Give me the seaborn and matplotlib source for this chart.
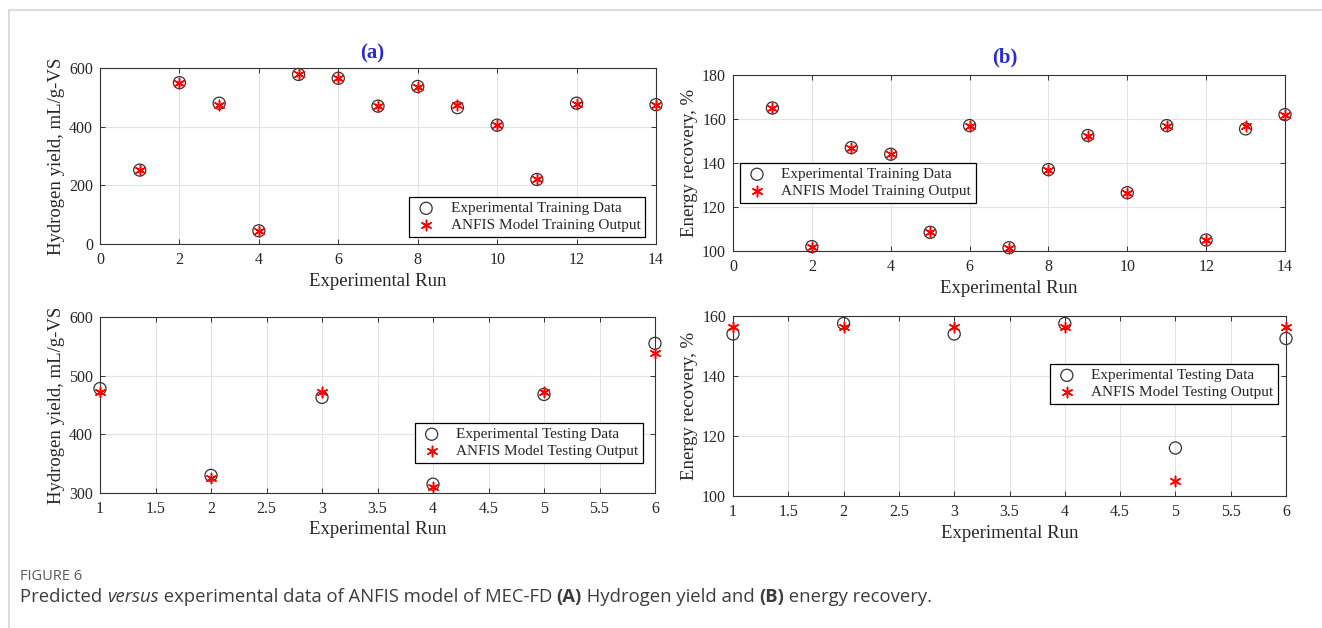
import matplotlib
matplotlib.use("Agg")
import matplotlib.pyplot as plt
import seaborn as sns
import pandas as pd
from matplotlib.ticker import FuncFormatter, MultipleLocator
from matplotlib.lines import Line2D

# ---------------- data ----------------
train_run_a = [1, 2, 3, 4, 5, 6, 7, 8, 9, 10, 11, 12, 14]
train_exp_a = [252, 550, 480, 45, 578, 565, 470, 537, 465, 405, 220, 480, 475]
train_mod_a = [252, 550, 473, 45, 578, 565, 470, 535, 475, 405, 220, 477, 475]

train_run_b = [1, 2, 3, 4, 5, 6, 7, 8, 9, 10, 11, 12, 13, 14]
train_exp_b = [165, 102, 147, 144, 108.5, 157, 101.5, 137, 152.5, 126.5, 157, 105, 155.5, 162]
train_mod_b = [165, 102, 147, 144, 108.5, 157, 101.5, 137, 152.5, 126.5, 157, 105, 157, 162]

test_run = [1, 2, 3, 4, 5, 6]
test_exp_a = [478, 330, 463, 315, 468, 555]
test_mod_a = [472, 325, 472, 310, 472, 538]
test_exp_b = [154, 157.5, 154, 157.5, 116, 152.5]
test_mod_b = [156.5, 156.5, 156.5, 156.5, 105, 156.5]

ylabel_a = "Hydrogen yield, mL/g-VS"
ylabel_b = "Energy recovery, %"
xlabel = "Experimental Run"
leg_train = ["Experimental Training Data", "ANFIS Model Training Output"]
leg_test = ["Experimental Testing Data", "ANFIS Model Testing Output"]

# ---------------- style ----------------
sns.set_style("ticks")
plt.rcParams["font.family"] = ["Liberation Serif", "DejaVu Serif"]
plt.rcParams["xtick.direction"] = "in"
plt.rcParams["ytick.direction"] = "in"
plt.rcParams["axes.edgecolor"] = "#333333"
plt.rcParams["axes.linewidth"] = 0.8

W, H = 1322, 628
fig = plt.figure(figsize=(W / 100, H / 100), dpi=100)


def px_axes(x0, x1, y0, y1):
    return fig.add_axes([x0 / W, 1 - y1 / H, (x1 - x0) / W, (y1 - y0) / H])


ASTER = (6, 2, 0)
fmt = FuncFormatter(lambda v, p: "%g" % v)


def panel(ax, runs, exp, mod, labels, xlim, xstep, ylim, ystep, ylab, leg_loc, leg_anchor):
    df = pd.DataFrame({"run": runs, "exp": exp, "mod": mod})
    sns.scatterplot(data=df, x="run", y="exp", ax=ax, marker="o", s=76,
                    facecolor="none", edgecolor="#333333", linewidth=0.9,
                    label=labels[0], clip_on=False, zorder=3)
    sns.scatterplot(data=df, x="run", y="mod", ax=ax, marker=ASTER, s=55,
                    color="red", linewidth=1.1, label=labels[1], clip_on=False, zorder=4)
    ax.set_xlim(*xlim)
    ax.set_ylim(*ylim)
    ax.xaxis.set_major_locator(MultipleLocator(xstep))
    ax.yaxis.set_major_locator(MultipleLocator(ystep))
    ax.xaxis.set_major_formatter(fmt)
    ax.yaxis.set_major_formatter(fmt)
    ax.grid(True, color="#e3e3e3", linewidth=0.8, zorder=0)
    ax.set_axisbelow(True)
    ax.tick_params(axis="both", labelsize=11.5, length=3.5, width=0.7,
                   top=True, right=True, color="#333333")
    ax.tick_params(axis="x", pad=6)
    ax.tick_params(axis="y", pad=5)
    ax.set_xlabel(xlabel, fontsize=13.5, labelpad=3)
    ax.set_ylabel(ylab, fontsize=13.5, labelpad=3)
    leg = ax.legend(loc=leg_loc, bbox_to_anchor=leg_anchor, borderaxespad=0,
                    fontsize=11, frameon=True, fancybox=False, framealpha=1,
                    edgecolor="black", handletextpad=0.8, borderpad=0.3,
                    labelspacing=0.22, handlelength=1.6)
    leg.get_frame().set_linewidth(0.9)
    leg.set_zorder(10)


ax1 = px_axes(100, 656, 68, 244)
panel(ax1, train_run_a, train_exp_a, train_mod_a, leg_train, (0, 14), 2, (0, 600), 200,
      ylabel_a, "lower right", (0.980, 0.040))
ax2 = px_axes(733, 1285, 75, 251)
panel(ax2, train_run_b, train_exp_b, train_mod_b, leg_train, (0, 14), 2, (100, 180), 20,
      ylabel_b, "upper left", (0.013, 0.500))
ax3 = px_axes(100, 655, 317, 493)
panel(ax3, test_run, test_exp_a, test_mod_a, leg_test, (1, 6), 0.5, (300, 600), 100,
      ylabel_a, "upper right", (0.978, 0.398))
ax4 = px_axes(733, 1286, 316, 496)
panel(ax4, test_run, test_exp_b, test_mod_b, leg_test, (1, 6), 0.5, (100, 160), 20,
      ylabel_b, "upper right", (0.9855, 0.733))

# panel titles
fig.text(372 / W, 1 - 53 / H, "(a)", ha="center", va="center", fontsize=15,
         fontweight="bold", color="#2a2ad4")
fig.text(1005 / W, 1 - 57 / H, "(b)", ha="center", va="center", fontsize=15,
         fontweight="bold", color="#2a2ad4")

# page border
fig.add_artist(Line2D([9 / W, 1], [1 - 10 / H, 1 - 10 / H], color="#d6d6d6", lw=1.2))
fig.add_artist(Line2D([9 / W, 9 / W], [0, 1 - 10 / H], color="#d6d6d6", lw=1.2))

# caption
cap_font = ["Open Sans", "DejaVu Sans"]
fig.text(20 / W, 1 - 576 / H, "FIGURE 6", ha="left", va="center", fontsize=10.5,
         color="#5a5a5a", family=cap_font)

segments = [
    ("Predicted ", "normal", "normal"),
    ("versus", "normal", "italic"),
    (" experimental data of ANFIS model of MEC-FD ", "normal", "normal"),
    ("(A)", "bold", "normal"),
    (" Hydrogen yield and ", "normal", "normal"),
    ("(B)", "bold", "normal"),
    (" energy recovery.", "normal", "normal"),
]
fig.canvas.draw()
renderer = fig.canvas.get_renderer()
xpos = 20
for txt, wt, st in segments:
    t = fig.text(xpos / W, 1 - 597 / H, txt, ha="left", va="center", fontsize=13.3,
                 color="#3c3c3c", family=cap_font, fontweight=wt, fontstyle=st)
    bb = t.get_window_extent(renderer=renderer)
    xpos += bb.width

fig.savefig("out.png", dpi=100)
